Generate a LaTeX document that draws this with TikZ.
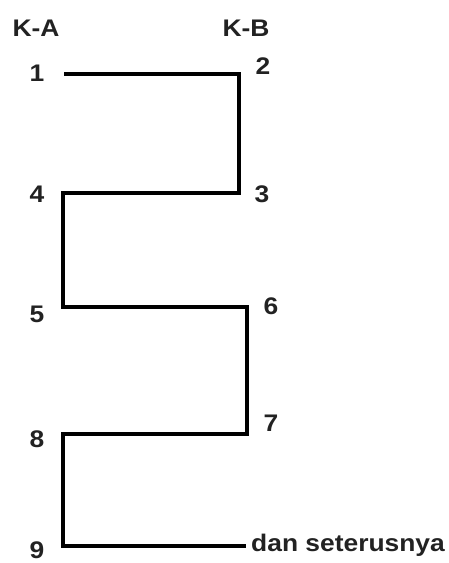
\documentclass[tikz,border=0pt]{standalone}
\usepackage{fontspec}
\setmainfont{Liberation Sans}[FakeStretch=1.1,BoldFont={* Bold},BoldFeatures={FakeStretch=1.1}]
\usetikzlibrary{calc}
\definecolor{txt}{HTML}{222222}
\begin{document}
\begin{tikzpicture}[x=1pt,y=-1pt,
  lbl/.style={inner sep=0pt,anchor=base,text=txt,font=\fontsize{24}{28}\selectfont\bfseries},
  wire/.style={line width=4.6pt,line join=miter,line cap=butt,black}]
\useasboundingbox (0,0) rectangle (448,563);
% headers
\node[lbl] (ka) at (36,36) {K-A};
\node[lbl] (kb) at (246,36) {K-B};
% numbers
\node[lbl] (n1) at (37,81) {1};
\node[lbl] (n2) at (263,74) {2};
\node[lbl] (n3) at (262,202) {3};
\node[lbl] (n4) at (37,202) {4};
\node[lbl] (n5) at (37,322) {5};
\node[lbl] (n6) at (271,314) {6};
\node[lbl] (n7) at (271,431) {7};
\node[lbl] (n8) at (37,447) {8};
\node[lbl] (n9) at (37,558) {9};
\node[lbl,anchor=base west] (etc) at (251,551) {dan seterusnya};
% corners
\coordinate (c1) at (64,74);
\coordinate (c2) at (239,74);
\coordinate (c3) at (239,193);
\coordinate (c4) at (63,193);
\coordinate (c5) at (63,307);
\coordinate (c6) at (247,307);
\coordinate (c7) at (247,434);
\coordinate (c8) at (63,434);
\coordinate (c9) at (63,546);
\coordinate (c10) at (246,546);
\draw[wire] (c1) -- (c2) -- (c3) -- (c4) -- (c5) -- (c6) -- (c7) -- (c8) -- (c9) -- (c10);
\end{tikzpicture}
\end{document}
